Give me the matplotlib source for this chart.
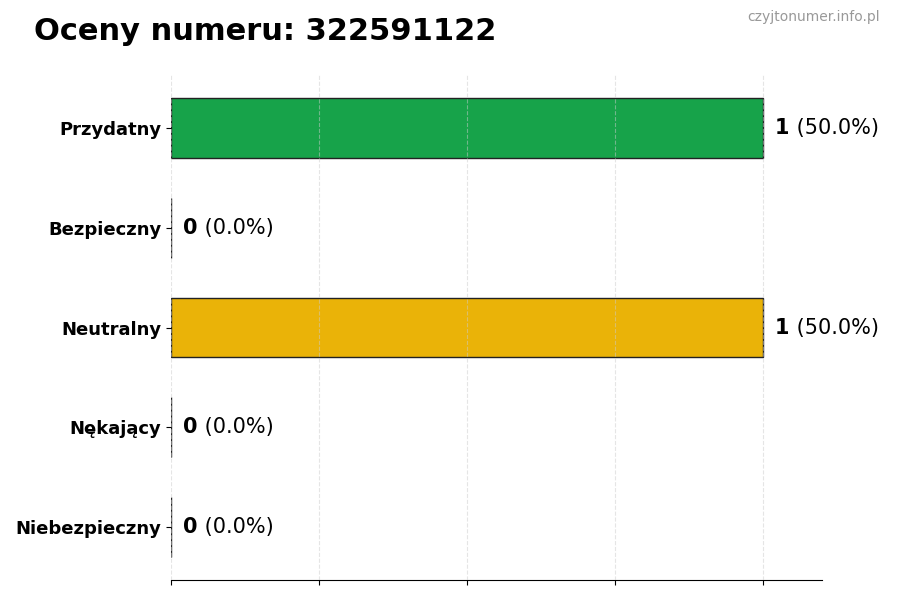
import matplotlib
matplotlib.use("Agg")
import matplotlib.pyplot as plt

#%%data
categories = ["Przydatny", "Bezpieczny", "Neutralny", "Nękający", "Niebezpieczny"]
counts = [1, 0, 1, 0, 0]
colors = ["#17a34a", "#3b82f6", "#eab308", "#f97316", "#dc2626"]
number = "322591122"

#%%plot
def main():
    total = sum(counts)
    fig = plt.figure(figsize=(9, 6), dpi=100)
    ax = fig.add_axes([0.19, 0.0333, 0.723, 0.8417])

    ypos = list(range(len(categories)))
    ax.barh(ypos, counts, height=0.6, color=colors, edgecolor="#222222", linewidth=1)
    ax.invert_yaxis()
    ax.set_xlim(0, 1.1)
    ax.set_xticks([0, 0.25, 0.5, 0.75, 1.0])
    ax.set_xticklabels([])
    ax.set_yticks(ypos)
    ax.set_yticklabels(categories, fontsize=13, fontweight="bold")
    ax.grid(axis="x", linestyle="--", color="#cccccc", linewidth=0.8, alpha=0.5)
    ax.set_axisbelow(False)
    for s in ["top", "right", "left"]:
        ax.spines[s].set_visible(False)

    for y, c in zip(ypos, counts):
        pct = 100 * c / total if total else 0
        t = ax.annotate(str(c), xy=(c, y), xytext=(9, 0), textcoords="offset points",
                        va="center", ha="left", fontsize=15, fontweight="bold")
        ax.annotate(f" ({pct:.1f}%)", xy=(1, 0.5), xycoords=t,
                    va="center", ha="left", fontsize=15)

    fig.text(0.038, 0.948, f"Oceny numeru: {number}", fontsize=22, fontweight="bold",
             ha="left", va="center")
    fig.text(0.978, 0.971, "czyjtonumer.info.pl", fontsize=10, color="#999999",
             ha="right", va="center")

    fig.savefig("out.png", dpi=100)

if __name__ == "__main__":
    main()
